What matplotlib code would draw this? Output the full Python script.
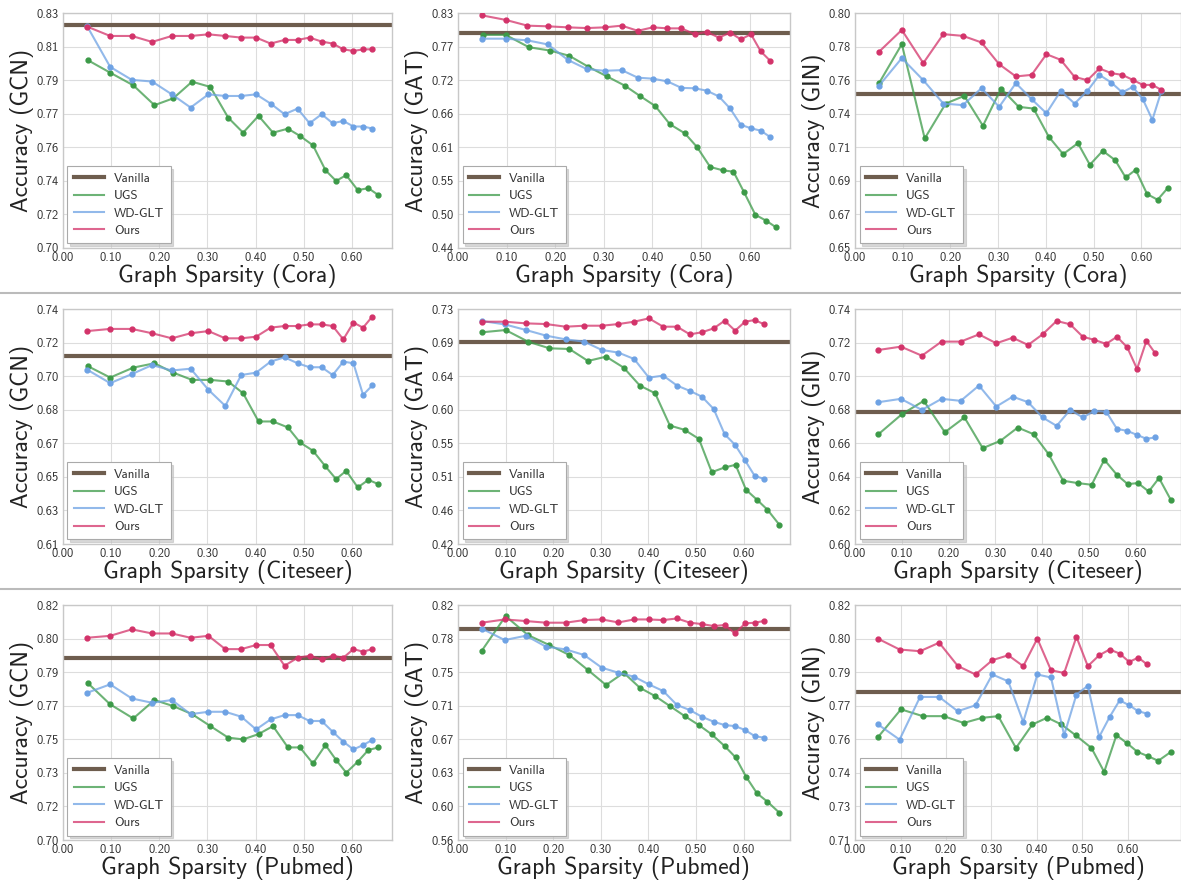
import numpy as np
import matplotlib
matplotlib.use("Agg")
import matplotlib.pyplot as plt
from matplotlib.lines import Line2D

plt.rcParams['font.family'] = ['cmss10', 'DejaVu Sans']
plt.rcParams['axes.unicode_minus'] = False

# graph sparsity levels
sparsity = [0.050, 0.098, 0.143, 0.185, 0.226, 0.265, 0.302, 0.337, 0.370, 0.401,
            0.431, 0.460, 0.487, 0.512, 0.537, 0.560, 0.582, 0.603, 0.623, 0.642]
ugs_sparsity_a = [0.051, 0.098, 0.146, 0.190, 0.229, 0.268, 0.306, 0.343, 0.374, 0.406,
                  0.436, 0.467, 0.492, 0.519, 0.545, 0.567, 0.588, 0.612, 0.634, 0.655]
ugs_sparsity_b = [0.050, 0.100, 0.147, 0.192, 0.234, 0.273, 0.311, 0.348, 0.382, 0.414,
                  0.445, 0.476, 0.506, 0.533, 0.560, 0.583, 0.605, 0.628, 0.650, 0.675]
ugs_sparsity_c = [0.051, 0.101, 0.149, 0.195, 0.239, 0.279, 0.315, 0.354, 0.390, 0.423,
                  0.454, 0.485, 0.520, 0.548, 0.575, 0.599, 0.621, 0.645, 0.667, 0.695]

# ---- Cora ----
gcn_cora_vanilla = 0.8233
gcn_cora_ugs = [0.8040, 0.7970, 0.7900, 0.7790, 0.7828, 0.7920, 0.7891, 0.7721, 0.7638, 0.7731,
                0.7638, 0.7660, 0.7620, 0.7568, 0.7430, 0.7371, 0.7403, 0.7320, 0.7331, 0.7292]
gcn_cora_wd = [0.8228, 0.8002, 0.7930, 0.7921, 0.7850, 0.7777, 0.7850, 0.7841, 0.7841, 0.7850,
               0.7799, 0.7740, 0.7771, 0.7690, 0.7740, 0.7690, 0.7703, 0.7672, 0.7672, 0.7661]
gcn_cora_ours = [0.8225, 0.8173, 0.8173, 0.8140, 0.8173, 0.8173, 0.8182, 0.8173, 0.8164, 0.8164,
                 0.8131, 0.8151, 0.8151, 0.8164, 0.8142, 0.8131, 0.8099, 0.8090, 0.8099, 0.8099]

gat_cora_vanilla = 0.796
gat_cora_ugs = [0.7937, 0.7937, 0.7732, 0.7676, 0.7590, 0.7409, 0.7250, 0.7096, 0.6926, 0.6756,
                0.6455, 0.6302, 0.6075, 0.5745, 0.5689, 0.5666, 0.5337, 0.4951, 0.4854, 0.4741]
gat_cora_wd = [0.7874, 0.7874, 0.7846, 0.7778, 0.7522, 0.7369, 0.7341, 0.7352, 0.7227, 0.7210,
               0.7165, 0.7057, 0.7051, 0.7011, 0.6915, 0.6716, 0.6444, 0.6387, 0.6347, 0.6245]
gat_cora_ours = [0.8260, 0.8186, 0.8090, 0.8079, 0.8062, 0.8050, 0.8062, 0.8090, 0.8005, 0.8062,
                 0.8045, 0.8045, 0.7948, 0.7988, 0.7891, 0.7976, 0.7863, 0.7948, 0.7664, 0.7511]

gin_cora_vanilla = 0.7482
gin_cora_ugs = [0.7556, 0.7801, 0.7199, 0.7422, 0.7471, 0.7280, 0.7518, 0.7401, 0.7390, 0.7210,
                0.7099, 0.7169, 0.7031, 0.7120, 0.7061, 0.6950, 0.6999, 0.6844, 0.6808, 0.6882]
gin_cora_wd = [0.7535, 0.7712, 0.7571, 0.7422, 0.7412, 0.7520, 0.7401, 0.7552, 0.7450, 0.7360,
               0.7503, 0.7422, 0.7503, 0.7605, 0.7556, 0.7493, 0.7529, 0.7450, 0.7318, 0.7503]
gin_cora_ours = [0.7752, 0.7892, 0.7680, 0.7865, 0.7854, 0.7812, 0.7673, 0.7595, 0.7605, 0.7737,
                 0.7701, 0.7592, 0.7571, 0.7646, 0.7616, 0.7605, 0.7573, 0.7541, 0.7541, 0.7509]

# ---- Citeseer ----
gcn_cite_vanilla = 0.7142
gcn_cite_ugs = [0.7085, 0.7021, 0.7076, 0.7100, 0.7048, 0.7008, 0.7008, 0.6999, 0.6934, 0.6778,
                0.6778, 0.6745, 0.6662, 0.6616, 0.6529, 0.6459, 0.6505, 0.6413, 0.6455, 0.6431]
gcn_cite_wd = [0.7065, 0.6990, 0.7040, 0.7090, 0.7060, 0.7070, 0.6953, 0.6864, 0.7035, 0.7048,
               0.7109, 0.7133, 0.7100, 0.7078, 0.7078, 0.7035, 0.7109, 0.7100, 0.6925, 0.6977]
gcn_cite_ours = [0.7278, 0.7290, 0.7290, 0.7266, 0.7238, 0.7266, 0.7278, 0.7238, 0.7238, 0.7247,
                 0.7297, 0.7306, 0.7306, 0.7315, 0.7315, 0.7306, 0.7232, 0.7325, 0.7297, 0.7358]

gat_cite_vanilla = 0.6861
gat_cite_ugs = [0.6993, 0.7023, 0.6870, 0.6782, 0.6773, 0.6615, 0.6672, 0.6527, 0.6290, 0.6189,
                0.5763, 0.5706, 0.5587, 0.5148, 0.5210, 0.5245, 0.4915, 0.4784, 0.4652, 0.4454]
gat_cite_wd = [0.7142, 0.7098, 0.7023, 0.6949, 0.6900, 0.6870, 0.6760, 0.6725, 0.6641, 0.6395,
               0.6422, 0.6290, 0.6220, 0.6145, 0.5982, 0.5649, 0.5508, 0.5302, 0.5100, 0.5060]
gat_cite_ours = [0.7133, 0.7133, 0.7111, 0.7102, 0.7067, 0.7080, 0.7080, 0.7102, 0.7133, 0.7177,
                 0.7067, 0.7067, 0.6966, 0.6993, 0.7045, 0.7146, 0.7015, 0.7133, 0.7155, 0.7102]

gin_cite_vanilla = 0.6785
gin_cite_ugs = [0.6654, 0.6773, 0.6853, 0.6666, 0.6754, 0.6571, 0.6615, 0.6694, 0.6654, 0.6535,
                0.6377, 0.6363, 0.6353, 0.6502, 0.6412, 0.6357, 0.6363, 0.6313, 0.6393, 0.6264]
gin_cite_wd = [0.6845, 0.6865, 0.6799, 0.6865, 0.6853, 0.6944, 0.6819, 0.6878, 0.6845, 0.6754,
               0.6704, 0.6799, 0.6754, 0.6793, 0.6789, 0.6686, 0.6674, 0.6650, 0.6627, 0.6635]
gin_cite_ours = [0.7156, 0.7176, 0.7122, 0.7206, 0.7206, 0.7249, 0.7196, 0.7229, 0.7186, 0.7249,
                 0.7329, 0.7309, 0.7235, 0.7216, 0.7192, 0.7235, 0.7172, 0.7043, 0.7210, 0.7136]

# ---- Pubmed ----
gcn_pub_vanilla = 0.7931
gcn_pub_ugs = [0.7803, 0.7693, 0.7621, 0.7715, 0.7684, 0.7643, 0.7582, 0.7523, 0.7514, 0.7541,
               0.7582, 0.7473, 0.7473, 0.7391, 0.7485, 0.7409, 0.7344, 0.7400, 0.7460, 0.7473]
gcn_pub_wd = [0.7752, 0.7795, 0.7723, 0.7701, 0.7715, 0.7643, 0.7655, 0.7655, 0.7630, 0.7565,
              0.7616, 0.7638, 0.7638, 0.7608, 0.7608, 0.7553, 0.7502, 0.7463, 0.7485, 0.7511]
gcn_pub_ours = [0.8033, 0.8043, 0.8076, 0.8055, 0.8055, 0.8033, 0.8043, 0.7975, 0.7975, 0.7996,
                0.7996, 0.7890, 0.7931, 0.7941, 0.7923, 0.7941, 0.7931, 0.7975, 0.7962, 0.7975]

gat_pub_vanilla = 0.7934
gat_pub_ugs = [0.7695, 0.8078, 0.7868, 0.7757, 0.7647, 0.7481, 0.7315, 0.7451, 0.7285, 0.7193,
               0.7083, 0.6972, 0.6872, 0.6769, 0.6640, 0.6515, 0.6301, 0.6117, 0.6024, 0.5902]
gat_pub_wd = [0.7940, 0.7813, 0.7861, 0.7739, 0.7710, 0.7647, 0.7507, 0.7451, 0.7407, 0.7322,
              0.7249, 0.7094, 0.7038, 0.6965, 0.6909, 0.6872, 0.6861, 0.6817, 0.6751, 0.6732]
gat_pub_ours = [0.8005, 0.8041, 0.8023, 0.8005, 0.8005, 0.8034, 0.8041, 0.8008, 0.8041, 0.8041,
                0.8034, 0.8052, 0.8005, 0.7990, 0.7968, 0.7979, 0.7887, 0.7997, 0.8005, 0.8023]

gin_pub_vanilla = 0.7793
gin_pub_ugs = [0.7583, 0.7712, 0.7680, 0.7680, 0.7648, 0.7672, 0.7680, 0.7531, 0.7641, 0.7673,
               0.7641, 0.7591, 0.7531, 0.7419, 0.7591, 0.7552, 0.7513, 0.7492, 0.7471, 0.7513]
gin_pub_wd = [0.7642, 0.7570, 0.7770, 0.7770, 0.7703, 0.7731, 0.7875, 0.7843, 0.7653, 0.7875,
              0.7861, 0.7591, 0.7781, 0.7822, 0.7583, 0.7676, 0.7754, 0.7731, 0.7703, 0.7692]
gin_pub_ours = [0.8043, 0.7992, 0.7984, 0.8024, 0.7915, 0.7875, 0.7942, 0.7965, 0.7914, 0.8043,
                0.7895, 0.7882, 0.8051, 0.7914, 0.7965, 0.7992, 0.7973, 0.7934, 0.7954, 0.7923]

models = ["GCN", "GAT", "GIN"]
datasets = ["Cora", "Citeseer", "Pubmed"]
y_limits = [[(0.70, 0.83), (0.44, 0.83), (0.65, 0.80)],
            [(0.61, 0.74), (0.42, 0.73), (0.60, 0.74)],
            [(0.70, 0.82), (0.56, 0.82), (0.71, 0.82)]]
x_max = [[0.683, 0.683, 0.683],
         [0.683, 0.697, 0.697],
         [0.683, 0.697, 0.717]]

panels = [
    [(gcn_cora_vanilla, ugs_sparsity_a, gcn_cora_ugs, gcn_cora_wd, gcn_cora_ours),
     (gat_cora_vanilla, ugs_sparsity_a, gat_cora_ugs, gat_cora_wd, gat_cora_ours),
     (gin_cora_vanilla, ugs_sparsity_a, gin_cora_ugs, gin_cora_wd, gin_cora_ours)],
    [(gcn_cite_vanilla, ugs_sparsity_a, gcn_cite_ugs, gcn_cite_wd, gcn_cite_ours),
     (gat_cite_vanilla, ugs_sparsity_b, gat_cite_ugs, gat_cite_wd, gat_cite_ours),
     (gin_cite_vanilla, ugs_sparsity_b, gin_cite_ugs, gin_cite_wd, gin_cite_ours)],
    [(gcn_pub_vanilla, ugs_sparsity_a, gcn_pub_ugs, gcn_pub_wd, gcn_pub_ours),
     (gat_pub_vanilla, ugs_sparsity_b, gat_pub_ugs, gat_pub_wd, gat_pub_ours),
     (gin_pub_vanilla, ugs_sparsity_c, gin_pub_ugs, gin_pub_wd, gin_pub_ours)],
]

c_vanilla = "#6e5d4e"
c_ugs = "#3c9a48"
c_wd = "#6ea2e4"
c_ours = "#d3336a"

fig = plt.figure(figsize=(11.81, 8.85), dpi=100)

col_left = [0.0533, 0.3878, 0.7240]
col_width = [0.2786, 0.2810, 0.2760]
row_bottom = [0.7198, 0.3853, 0.0508]
row_height = 0.2655

for r in range(3):
    for c in range(3):
        vanilla, ugs_x, ugs, wd, ours = panels[r][c]
        ax = fig.add_axes([col_left[c], row_bottom[r], col_width[c], row_height])
        ax.grid(True, color="#dddddd", lw=0.8)
        ax.set_axisbelow(True)
        for s in ax.spines.values():
            s.set_color("#c8c8c8")
            s.set_linewidth(1.0)

        ax.axhline(vanilla, color=c_vanilla, lw=3, label="Vanilla", zorder=2)
        ax.plot(ugs_x, ugs, color=c_ugs, lw=1.5, alpha=0.75, label="UGS", zorder=3)
        ax.plot(ugs_x, ugs, "o", color=c_ugs, ms=3.5, zorder=3)
        ax.plot(sparsity[:len(wd)], wd, color=c_wd, lw=1.5, alpha=0.75, label="WD-GLT", zorder=4)
        ax.plot(sparsity[:len(wd)], wd, "o", color=c_wd, ms=3.5, zorder=4)
        ax.plot(sparsity[:len(ours)], ours, color=c_ours, lw=1.5, alpha=0.75, label="Ours", zorder=5)
        ax.plot(sparsity[:len(ours)], ours, "o", color=c_ours, ms=3.5, zorder=5)

        lo, hi = y_limits[r][c]
        ax.set_ylim(lo, hi)
        yt = np.linspace(lo, hi, 8)
        ax.set_yticks(yt)
        ax.set_yticklabels(["%.2f" % v for v in yt])
        ax.set_xlim(0, x_max[r][c])
        xt = [0.0, 0.1, 0.2, 0.3, 0.4, 0.5, 0.6]
        ax.set_xticks(xt)
        ax.set_xticklabels(["%.2f" % v for v in xt])
        ax.tick_params(length=0, labelsize=9, colors="#333333", pad=3)

        ax.set_xlabel("Graph Sparsity (%s)" % datasets[r], fontsize=17, color="#222222", labelpad=0)
        ax.set_ylabel("Accuracy (%s)" % models[c], fontsize=17, color="#222222", labelpad=2)

        leg = ax.legend(loc="lower left", fontsize=9.3, frameon=True, fancybox=False,
                        edgecolor="#aaaaaa", borderaxespad=0.35, handlelength=2.3,
                        labelspacing=0.42, borderpad=0.5,
                        shadow={"color": "0.75", "alpha": 0.6, "ox": 2, "oy": -2})
        leg.get_frame().set_linewidth(0.8)
        for t in leg.get_texts():
            t.set_color("#333333")

for y in [1 - 293 / 885, 1 - 589 / 885]:
    fig.add_artist(Line2D([0, 1], [y, y], transform=fig.transFigure, color="#bbbbbb", lw=1.5))

fig.savefig("out.png", dpi=100, facecolor="white")
